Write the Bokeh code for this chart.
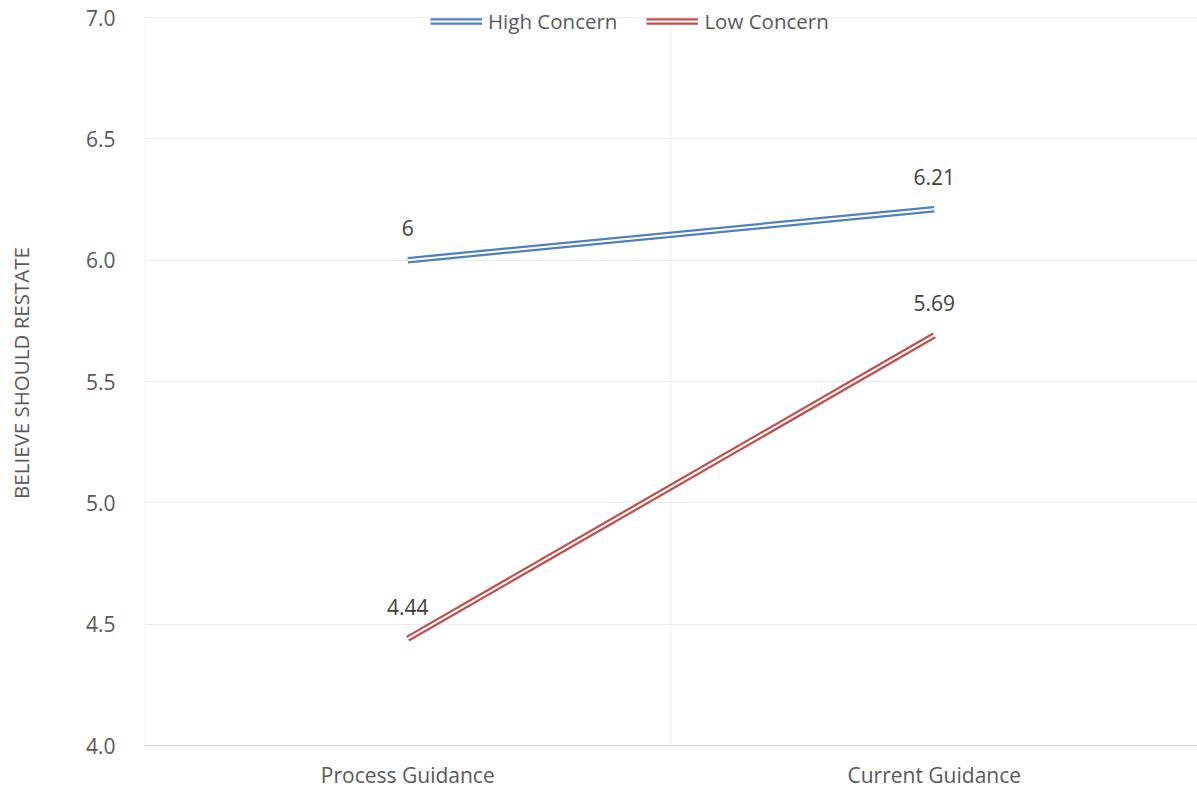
from bokeh.plotting import figure
from bokeh.models import ColumnDataSource, FactorRange, Range1d, Legend, LegendItem, NumeralTickFormatter, FixedTicker
from bokeh.core.properties import value
from bokeh.embed import file_html
from bokeh.resources import INLINE

categories = ["Process Guidance", "Current Guidance"]
high_concern = [6.0, 6.21]
low_concern = [4.44, 5.69]
high_labels = ["6", "6.21"]
low_labels = ["4.44", "5.69"]
y_ticks = [4.0, 4.5, 5.0, 5.5, 6.0, 6.5, 7.0]

FONT = "Open Sans"
BLUE = "#4f81bd"
RED = "#c0504d"
GRID = "#ececec"

# frame extends 17px above the 7.0 gridline so the legend can sit there
y_lo, y_hi = y_ticks[0], y_ticks[-1]
y_top = y_hi + (y_hi - y_lo) * 17 / 728

p = figure(width=1197, height=791, x_range=FactorRange(*categories), y_range=Range1d(y_lo, y_top),
           output_backend="svg", toolbar_location=None,
           min_border_left=144, min_border_right=0, min_border_top=0, min_border_bottom=46)
p.outline_line_color = None
p.background_fill_color = "white"

# grid
p.xgrid.grid_line_color = None
p.ygrid.grid_line_color = GRID
p.ygrid.grid_line_width = 1
n = len(categories)
bounds = list(range(n + 1))
p.segment(x0=bounds, x1=bounds, y0=[y_lo] * (n + 1), y1=[y_hi] * (n + 1), line_color=GRID, line_width=1)

# axes
p.yaxis.ticker = FixedTicker(ticks=y_ticks)
p.yaxis.formatter = NumeralTickFormatter(format="0.0")
p.yaxis.axis_line_color = None
p.yaxis.major_tick_line_color = None
p.yaxis.minor_tick_line_color = None
p.yaxis.major_label_standoff = 23
p.yaxis.major_label_text_font = FONT
p.yaxis.major_label_text_font_size = "21px"
p.yaxis.major_label_text_color = "#595959"
p.yaxis.axis_label = "BELIEVE SHOULD RESTATE"
p.yaxis.axis_label_text_font = FONT
p.yaxis.axis_label_text_font_size = "20.5px"
p.yaxis.axis_label_text_font_style = "normal"
p.yaxis.axis_label_text_color = "#595959"
p.yaxis.axis_label_standoff = 48

p.xaxis.axis_line_color = "#d9d9d9"
p.xaxis.major_tick_line_color = None
p.xaxis.minor_tick_line_color = None
p.xaxis.major_label_standoff = 9
p.xaxis.major_label_text_font = FONT
p.xaxis.major_label_text_font_size = "21px"
p.xaxis.major_label_text_color = "#595959"

src_h = ColumnDataSource(dict(x=categories, y=high_concern, t=high_labels))
src_l = ColumnDataSource(dict(x=categories, y=low_concern, t=low_labels))

h1 = p.line("x", "y", source=src_h, line_color=BLUE, line_width=6.5)
h2 = p.line("x", "y", source=src_h, line_color="white", line_width=2)
l1 = p.line("x", "y", source=src_l, line_color=RED, line_width=6.5)
l2 = p.line("x", "y", source=src_l, line_color="white", line_width=2)

for src in (src_h, src_l):
    p.text("x", "y", text="t", source=src, text_font=value(FONT), text_font_size="21px",
           text_color="#404040", text_align="center", text_baseline="alphabetic", y_offset=-32)

legend = Legend(items=[LegendItem(label="High Concern", renderers=[h1, h2]),
                       LegendItem(label="Low Concern", renderers=[l1, l2])],
                orientation="horizontal", location=(286, 710),
                background_fill_alpha=0, border_line_color=None,
                padding=0, margin=0, spacing=29, label_standoff=6,
                glyph_width=52, glyph_height=20, label_height=22,
                label_text_font=FONT, label_text_font_size="20.5px", label_text_color="#595959")
p.add_layout(legend)

open("out.html", "w").write(file_html(p, INLINE))
